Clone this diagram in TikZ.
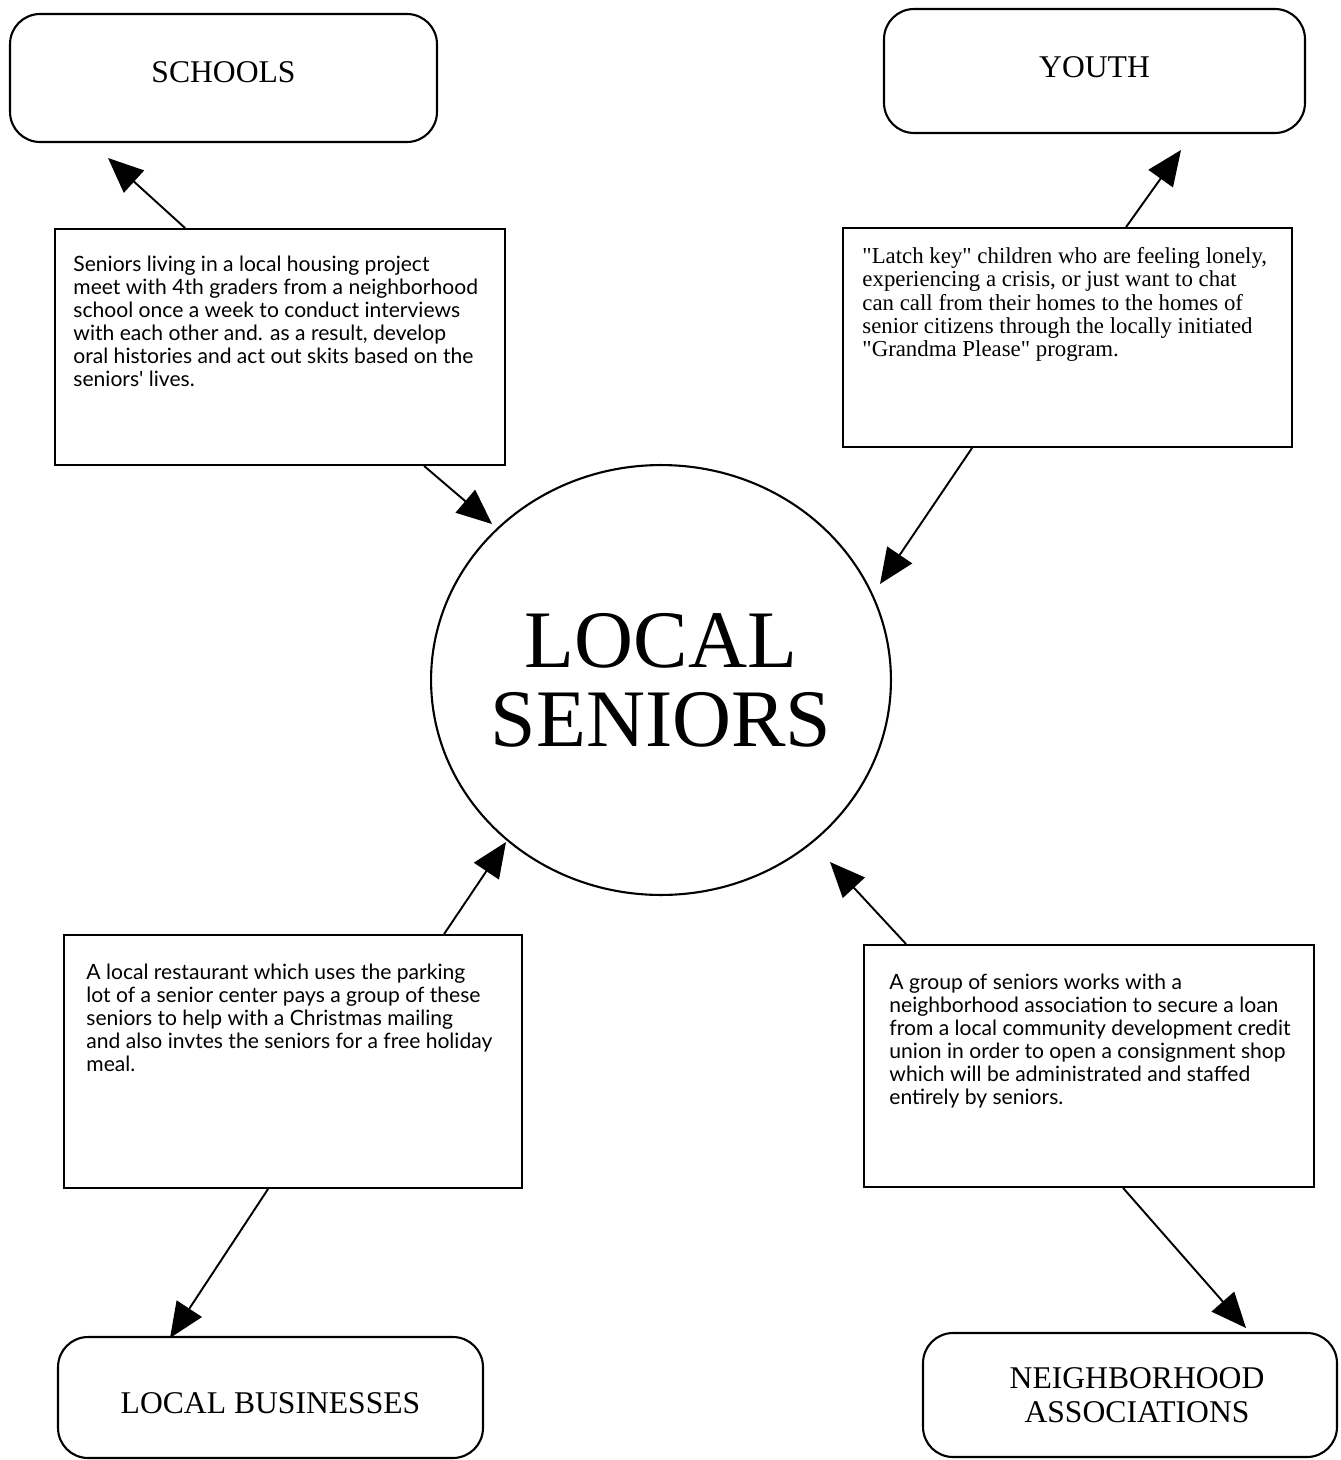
\documentclass[tikz,border=0pt]{standalone}
\usepackage{fontspec}
\setmainfont{Liberation Serif}
\newfontfamily\notefont{Lato}
\usetikzlibrary{arrows.meta,calc,shapes.geometric}

\tikzset{
  hub/.style={draw, line width=1.2pt, ellipse, minimum width=9.2cm, minimum height=8.6cm,
    inner sep=0pt},
  hubtext/.style={align=center, font=\fontsize{46.5}{45}\selectfont},
  partner/.style={draw, line width=1.2pt, rounded corners=0.6cm, align=center,
    font=\fontsize{18}{19}\selectfont},
  notebox/.style={draw, line width=1.1pt},
  notetext/.style={anchor=north west, inner sep=0pt, align=left},
  sanstext/.style={notetext, font=\notefont\fontsize{12}{13}\selectfont},
  seriftext/.style={notetext, font=\fontsize{13}{13.3}\selectfont},
  link/.style={line width=1.1pt, -{Triangle[length=20pt,width=17pt]}}
}

\begin{document}
\begin{tikzpicture}[x=0.02cm, y=-0.02cm]
\useasboundingbox (0,0) rectangle (1341,1460);

% central hub
\node[hub, label={[hubtext]center:LOCAL\\SENIORS}] (hub) at (661,680) {};

% partner groups
\node[partner, minimum width=8.54cm, minimum height=2.56cm, text depth=7pt] (schools) at (223.5,78) {SCHOOLS};
\node[partner, minimum width=8.42cm, minimum height=2.48cm, text depth=4pt] (youth) at (1094.5,71) {YOUTH};
\node[partner, minimum width=8.5cm, minimum height=2.42cm, text height=18pt] (business) at (270.5,1397.5) {LOCAL BUSINESSES};
\node[partner, minimum width=8.28cm, minimum height=2.48cm] (assoc) at (1130,1395) {\hspace*{8pt}NEIGHBORHOOD\\\hspace*{8pt}ASSOCIATIONS};

% example boxes
\node[notebox, minimum width=9.0cm, minimum height=4.72cm] (ex1) at (280,347) {};
\node[notebox, minimum width=8.98cm, minimum height=4.38cm] (ex2) at (1067.5,337.5) {};
\node[notebox, minimum width=9.16cm, minimum height=5.06cm] (ex3) at (293,1061.5) {};
\node[notebox, minimum width=9.0cm, minimum height=4.84cm] (ex4) at (1089,1066) {};

\node[sanstext] (ex1t) at ($(ex1.north west)+(19,28)$) {Seniors living in a local housing project\\
meet with 4th graders from a neighborhood\\
school once a week to conduct interviews\\
with each other and. as a result, develop\\
oral histories and act out skits based on the\\
seniors' lives.};

\node[seriftext] (ex2t) at ($(ex2.north west)+(20,20)$) {\textquotedbl Latch key\textquotedbl{} children who are feeling lonely,\\
experiencing a crisis, or just want to chat\\
can call from their homes to the homes of\\
senior citizens through the locally initiated\\
\textquotedbl Grandma Please\textquotedbl{} program.};

\node[sanstext] (ex3t) at ($(ex3.north west)+(23,30)$) {A local restaurant which uses the parking\\
lot of a senior center pays a group of these\\
seniors to help with a Christmas mailing\\
and also invtes the seniors for a free holiday\\
meal.};

\node[sanstext] (ex4t) at ($(ex4.north west)+(26,30)$) {A group of seniors works with a\\
neighborhood association to secure a loan\\
from a local community development credit\\
union in order to open a consignment shop\\
which will be administrated and staffed\\
entirely by seniors.};

% arrow tips
\coordinate (t1) at (108,158);
\coordinate (t2) at (492,524);
\coordinate (t3) at (1181,150);
\coordinate (t4) at (880,584);
\coordinate (t5) at (506,842);
\coordinate (t6) at (170,1338);
\coordinate (t7) at (830,862);
\coordinate (t8) at (1246,1328);

% connectors
\draw[link] ($(ex1.north west)+(131,0)$) -- (t1);
\draw[link] ($(ex1.south west)+(370,0)$) -- (t2);
\draw[link] ($(ex2.north west)+(284,0)$) -- (t3);
\draw[link] ($(ex2.south west)+(130,0)$) -- (t4);
\draw[link] ($(ex3.north west)+(381,0)$) -- (t5);
\draw[link] ($(ex3.south west)+(205,0)$) -- (t6);
\draw[link] ($(ex4.north west)+(43,0)$) -- (t7);
\draw[link] ($(ex4.south west)+(260,0)$) -- (t8);
\end{tikzpicture}
\end{document}
